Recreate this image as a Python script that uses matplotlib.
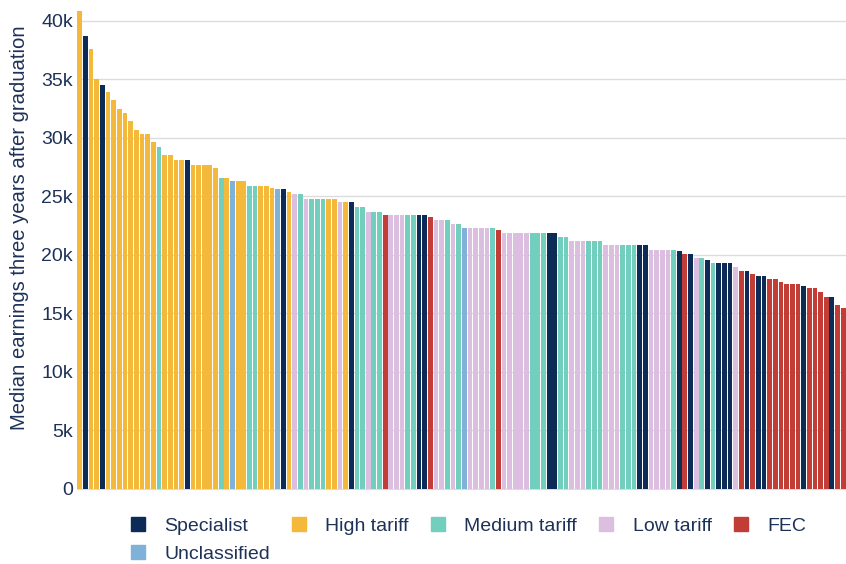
import matplotlib.pyplot as plt
from matplotlib.lines import Line2D
import numpy as np

# providers sorted by median earnings (in thousands), with their group
earnings = [40.8, 38.7, 37.6, 35.05, 34.5, 33.9, 33.2, 32.5, 32.1, 31.4,
            30.7, 30.3, 30.3, 29.6, 29.2, 28.5, 28.5, 28.1, 28.1, 28.1,
            27.7, 27.7, 27.7, 27.7, 27.4, 26.6, 26.6, 26.3, 26.3, 26.3,
            25.9, 25.9, 25.9, 25.9, 25.7, 25.6, 25.6, 25.4, 25.2, 25.2,
            24.8, 24.8, 24.8, 24.8, 24.8, 24.8, 24.5, 24.5, 24.5, 24.1,
            24.1, 23.7, 23.7, 23.7, 23.4, 23.4, 23.4, 23.4, 23.4, 23.4,
            23.4, 23.4, 23.2, 23.0, 23.0, 23.0, 22.6, 22.6, 22.3, 22.3,
            22.3, 22.3, 22.3, 22.3, 22.1, 21.9, 21.9, 21.9, 21.9, 21.9,
            21.9, 21.9, 21.9, 21.9, 21.9, 21.5, 21.5, 21.2, 21.2, 21.2,
            21.2, 21.2, 21.2, 20.8, 20.8, 20.8, 20.8, 20.8, 20.8, 20.8,
            20.8, 20.4, 20.4, 20.4, 20.4, 20.4, 20.3, 20.1, 20.1, 19.7,
            19.7, 19.6, 19.3, 19.3, 19.3, 19.3, 19.0, 18.65, 18.65, 18.4,
            18.2, 18.2, 17.9, 17.9, 17.7, 17.5, 17.5, 17.5, 17.3, 17.2,
            17.2, 16.8, 16.4, 16.4, 15.7, 15.5]
groups = ["H", "S", "H", "H", "S", "H", "H", "H", "H", "H",
          "H", "H", "H", "H", "M", "H", "H", "H", "H", "S",
          "H", "H", "H", "H", "H", "M", "H", "U", "H", "H",
          "M", "M", "H", "H", "H", "U", "S", "H", "L", "M",
          "L", "M", "M", "M", "H", "H", "L", "H", "S", "M",
          "M", "L", "M", "M", "F", "L", "L", "L", "M", "M",
          "S", "S", "F", "L", "L", "M", "L", "M", "U", "L",
          "L", "L", "L", "M", "F", "L", "L", "L", "L", "L",
          "M", "M", "M", "S", "S", "M", "M", "L", "L", "L",
          "M", "M", "M", "L", "L", "L", "M", "M", "M", "S",
          "S", "L", "L", "L", "L", "M", "S", "F", "S", "L",
          "M", "S", "M", "S", "S", "S", "L", "F", "S", "F",
          "S", "S", "F", "F", "F", "F", "F", "F", "S", "F",
          "F", "F", "F", "S", "F", "F"]

group_names = {"S": "Specialist", "H": "High tariff", "M": "Medium tariff",
               "L": "Low tariff", "F": "FEC", "U": "Unclassified"}
colours = {"S": "#0d2b57", "H": "#f4b83a", "M": "#72cfbd", "L": "#dcbfe0",
           "F": "#c23d35", "U": "#80b1d9"}
text_col = "#1e3157"

plt.rcParams["font.family"] = ["Liberation Sans", "DejaVu Sans"]

fig = plt.figure(figsize=(8.46, 5.64), dpi=100)
ax = fig.add_axes([0.091, 0.133, 0.909, 0.851])

x = np.arange(len(earnings))
vals = np.array(earnings) * 1000
ax.bar(x, vals, width=0.84, color=[colours[g] for g in groups],
       linewidth=0, zorder=3)

ax.set_xlim(-0.5, len(earnings) - 0.5)
ax.set_ylim(0, 41000)
ax.set_yticks(np.arange(0, 40001, 5000))
ax.set_yticklabels(["0"] + ["%dk" % v for v in range(5, 41, 5)])
ax.set_xticks([])
ax.grid(axis="y", color="#dcdcdc", linewidth=1, zorder=0)
for s in ["top", "right", "left"]:
    ax.spines[s].set_visible(False)
ax.spines["bottom"].set_color("#dcdcdc")
ax.tick_params(axis="y", length=0, pad=3, labelsize=14, labelcolor=text_col)
ax.set_ylabel("Median earnings three years after graduation", fontsize=14.6,
              color=text_col)
ax.yaxis.set_label_coords(-0.063, 0.545)

# legend: column-major so Unclassified lands under Specialist
order = ["S", "U", "H", "M", "L", "F"]
handles = [Line2D([], [], marker="s", linestyle="none", markersize=10.5,
                  markerfacecolor=colours[k], markeredgecolor=colours[k])
           for k in order]
fig.legend(handles, [group_names[k] for k in order], ncol=5,
           loc="upper left", bbox_to_anchor=(0.154, 0.083), frameon=False,
           fontsize=14, labelcolor=text_col, handletextpad=0.95,
           columnspacing=1.1, handlelength=0.8, labelspacing=0.55,
           borderpad=0, borderaxespad=0)

plt.savefig("out.png", dpi=100)
